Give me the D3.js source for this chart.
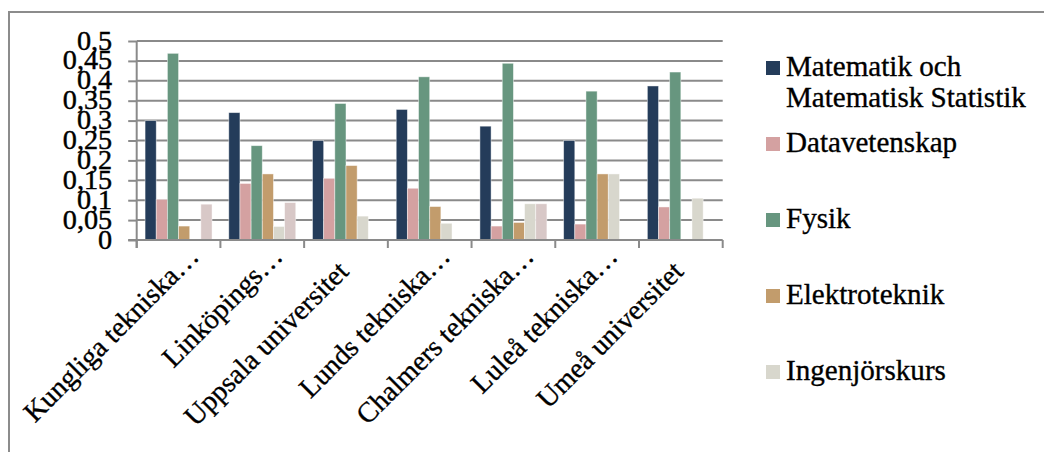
<!DOCTYPE html>
<html><head><meta charset="utf-8">
<script src="https://cdn.jsdelivr.net/npm/d3@7"></script>
<style>body{margin:0;background:#fff}svg{display:block}</style>
</head><body><svg id="c" width="1044" height="452"></svg>
<script>
const categories = ["Kungliga tekniska…","Linköpings…","Uppsala universitet","Lunds tekniska…","Chalmers tekniska…","Luleå tekniska…","Umeå universitet"];
const seriesNames = ["Matematik och Matematisk Statistik","Datavetenskap","Fysik","Elektroteknik","Ingenjörskurs",""];
const matematik   = [0.300,0.320,0.250,0.328,0.286,0.250,0.387];
const datavet     = [0.102,0.142,0.155,0.130,0.035,0.040,0.083];
const fysik       = [0.469,0.237,0.343,0.410,0.444,0.374,0.422];
const elektro     = [0.035,0.166,0.187,0.084,0.044,0.166,0.000];
const ingenjor    = [0.000,0.034,0.060,0.042,0.091,0.166,0.105];
const ovrigt      = [0.090,0.094,0.000,0.000,0.091,0.000,0.000];
const yTicks = [0,0.05,0.1,0.15,0.2,0.25,0.3,0.35,0.4,0.45,0.5];
const colors = ["#243c5a","#d4a1a1","#67967f","#c29c6c","#d8d7cd","#d8c8c7"];
const allSeries = [matematik,datavet,fysik,elektro,ingenjor,ovrigt];

const FONT = "'Liberation Serif', 'DejaVu Serif', 'Noto Serif', serif";
const svg = d3.select("#c");
const L = 136.7, R = 722.7, T = 41, B = 240;
const grey = "#8a8a8a";

// measure font to match reference text widths
const probe = svg.append("text").attr("font-family",FONT).attr("font-size",100).text("Matematisk Statistik");
const fs = Math.min(30, 100*240/probe.node().getComputedTextLength());
probe.remove();

// outer border
svg.append("rect").attr("x",9).attr("y",12).attr("width",1100).attr("height",500)
  .attr("fill","none").attr("stroke","#8c8c8c").attr("stroke-width",2);

const x = d3.scaleBand().domain(categories).range([L,R]).paddingInner(0).paddingOuter(0);
const bw = x.bandwidth();
const edge = bw/7.5*0.75;
const sub = d3.scaleBand().domain(d3.range(allSeries.length)).range([edge, bw-edge]).padding(0);
const y = d3.scaleLinear().domain([0,0.5]).range([B,T]);
const loc = d3.formatLocale({decimal:",",thousands:" ",grouping:[3],currency:["","kr"]});
const fmt = loc.format(".2~f");

// gridlines
svg.append("g").selectAll("line").data(yTicks.slice(1)).join("line")
  .attr("x1",L).attr("x2",R).attr("y1",d=>y(d)).attr("y2",d=>y(d))
  .attr("stroke",grey).attr("stroke-width",2);

// bars
const groups = svg.append("g").selectAll("g").data(allSeries).join("g").attr("fill",(d,i)=>colors[i]);
groups.each(function(vals,si){
  d3.select(this).selectAll("rect").data(vals.map((v,ci)=>({v,ci})).filter(d=>d.v>0)).join("rect")
    .attr("x",d=>x(categories[d.ci])+sub(si))
    .attr("y",d=>y(d.v))
    .attr("width",sub.bandwidth())
    .attr("height",d=>B-y(d.v))
    .attr("stroke","rgba(255,255,255,0.55)").attr("stroke-width",0.8);
});

// y axis
const yAxis = d3.axisLeft(y).tickValues(yTicks).tickFormat(fmt).tickSizeInner(8.5).tickSizeOuter(0).tickPadding(16);
const ya = svg.append("g").attr("transform",`translate(${L},0)`).call(yAxis)
  .attr("font-family",FONT).attr("font-size",fs*0.97);
ya.select(".domain").remove();
ya.selectAll(".tick line").attr("stroke",grey).attr("stroke-width",2);
ya.selectAll(".tick text").attr("dy",null).attr("y",8).attr("fill","#000")
  .attr("stroke","#000").attr("stroke-width",0.45);
svg.append("line").attr("x1",L).attr("x2",L).attr("y1",T).attr("y2",B+8).attr("stroke",grey).attr("stroke-width",2);

// x axis
svg.append("line").attr("x1",L-8.5).attr("x2",R).attr("y1",B).attr("y2",B).attr("stroke",grey).attr("stroke-width",2);
const bounds = categories.map(c=>x(c)).concat([x.range()[1]]);
svg.append("g").selectAll("line").data(bounds).join("line")
  .attr("x1",d=>d).attr("x2",d=>d).attr("y1",B).attr("y2",B+8).attr("stroke",grey).attr("stroke-width",2);

svg.append("g").attr("font-family",FONT).attr("font-size",fs*0.97)
  .attr("stroke","#000").attr("stroke-width",0.35)
  .selectAll("text").data(categories).join("text")
  .attr("text-anchor","end").attr("fill","#000")
  .attr("transform",d=>{
    const c = x(d)+bw/2;
    const trunc = d.endsWith("…");
    const ax = c + (trunc?22:4), ay = trunc?258:273;
    return `translate(${ax},${ay}) rotate(-45)`;
  })
  .text(d=>d);

// legend
const legendItems = seriesNames.map((n,i)=>({n,i})).filter(d=>d.n!=="");
const lg = svg.append("g").attr("font-family",FONT).attr("font-size",fs)
  .attr("stroke","#000").attr("stroke-width",0.35)
  .selectAll("g").data(legendItems).join("g")
  .attr("transform",(d,k)=>`translate(766,${68+76*k})`);
lg.append("rect").attr("x",0).attr("y",-7).attr("width",14).attr("height",14).attr("fill",d=>colors[d.i]).attr("stroke","none");
lg.append("text").attr("x",20).attr("y",8).attr("fill","#000")
  .each(function(d){
    const t = d3.select(this);
    if(d.i===0){
      t.append("tspan").attr("x",20).attr("y",8).text("Matematik och");
      t.append("tspan").attr("x",20).attr("y",39).text("Matematisk Statistik");
    } else t.text(d.n);
  });
</script></body></html>
